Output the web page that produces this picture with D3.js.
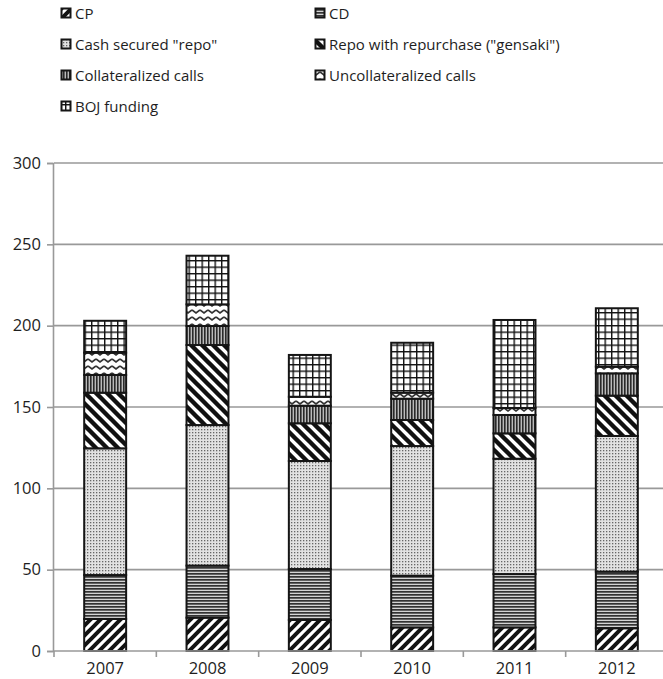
<!DOCTYPE html>
<html><head><meta charset="utf-8">
<script src="https://cdn.jsdelivr.net/npm/d3@7"></script>
<style>body{margin:0;background:#fff}svg{display:block}text{font-family:"Open Sans","Noto Sans",sans-serif;fill:#1e1e1e}</style>
</head><body>
<script>
const years = ["2007","2008","2009","2010","2011","2012"];
const seriesNames = ["CP","CD","Cash secured \"repo\"","Repo with repurchase (\"gensaki\")","Collateralized calls","Uncollateralized calls","BOJ funding"];
const cp        = [19.7, 20.5, 19.1, 14.5, 14.5, 14.0];
const cd        = [27.0, 32.0, 31.3, 31.8, 32.8, 34.8];
const cashRepo  = [77.9, 86.4, 66.4, 79.7, 70.9, 83.4];
const gensaki   = [34.2, 49.2, 23.2, 16.0, 15.6, 24.8];
const collCalls = [10.9, 11.7, 10.8, 13.1, 11.3, 13.7];
const uncollCalls=[13.7, 13.3, 5.5, 3.7, 4.3, 4.1];
const boj       = [19.6, 29.9, 25.7, 30.7, 54.1, 35.9];
const yTicks = [0,50,100,150,200,250,300];

(function(){
const seriesVals = [cp, cd, cashRepo, gensaki, collCalls, uncollCalls, boj];
const keys = ["cp","cd","cash","gensaki","coll","uncoll","boj"];
const table = years.map((yr,i)=>{const o={year:yr}; keys.forEach((k,j)=>o[k]=seriesVals[j][i]); return o;});
const stacked = d3.stack().keys(keys)(table);

const W=663,H=679;
const svg = d3.select("body").append("svg").attr("width",W).attr("height",H);
const defs = svg.append("defs");

function pat(id,w,h,build,bg="#fff"){
  const p=defs.append("pattern").attr("id",id).attr("patternUnits","userSpaceOnUse").attr("width",w).attr("height",h);
  p.append("rect").attr("width",w).attr("height",h).attr("fill",bg);
  build(p);
}
pat("p-cp",10,10,p=>{
  p.append("path").attr("d","M-2,12 L12,-2 M-2,2 L2,-2 M8,12 L12,8").attr("stroke","#111").attr("stroke-width",4);
});
pat("p-cd",4,3,p=>{
  p.append("rect").attr("y",0).attr("width",4).attr("height",1.7).attr("fill","#333");
},"#d4d4d4");
pat("p-cash",3,3,p=>{
  p.append("rect").attr("x",0).attr("y",0).attr("width",1.3).attr("height",1.3).attr("fill","#666");
},"#e2e2e2");
pat("p-gensaki",11,11,p=>{
  p.append("path").attr("d","M-2,-2 L13,13 M-2,9 L2,13 M9,-2 L13,2").attr("stroke","#111").attr("stroke-width",4.4);
});
pat("p-coll",3,4,p=>{
  p.append("rect").attr("x",0).attr("width",1.6).attr("height",4).attr("fill","#2a2a2a");
},"#bbb");
pat("p-uncoll",8,7,p=>{
  p.append("path").attr("d","M0,2 L4,5 L8,2").attr("fill","none").attr("stroke","#333").attr("stroke-width",1.7);
});
pat("p-boj",6.5,6.5,p=>{
  p.append("path").attr("d","M0,0 H6.5 M0,0 V6.5").attr("stroke","#111").attr("stroke-width",2.8);
});
const fills = {cp:"url(#p-cp)",cd:"url(#p-cd)",cash:"url(#p-cash)",gensaki:"url(#p-gensaki)",coll:"url(#p-coll)",uncoll:"url(#p-uncoll)",boj:"url(#p-boj)"};

const pl=54,pr=668,pt=163,pb=651;
const x = d3.scaleBand().domain(years).range([pl,pr]).paddingInner(0.59).paddingOuter(0.295);
const xb = d3.scaleBand().domain(years).range([pl,pr]);
const y = d3.scaleLinear().domain([0,300]).range([pb,pt]);

svg.append("g").selectAll("line").data(yTicks.filter(t=>t>0)).join("line")
  .attr("x1",pl).attr("x2",W).attr("y1",d=>y(d)).attr("y2",d=>y(d))
  .attr("stroke","#999").attr("stroke-width",1.6);

const ya = svg.append("g").attr("transform",`translate(${pl-1},0)`)
  .call(d3.axisLeft(y).tickValues(yTicks).tickSize(6).tickPadding(6));
ya.select(".domain").attr("stroke","#999").attr("stroke-width",1.6);
ya.selectAll(".tick line").attr("stroke","#999").attr("stroke-width",1.6);
ya.selectAll("text").attr("font-size",16.5).attr("fill","#1e1e1e").style("font-family","'Open Sans','Noto Sans',sans-serif");

const g = svg.append("g");
stacked.forEach(s=>{
  g.append("g").selectAll("rect").data(s).join("rect")
    .attr("x",d=>x(d.data.year)).attr("width",x.bandwidth())
    .attr("y",d=>y(d[1])).attr("height",d=>y(d[0])-y(d[1]))
    .attr("fill",fills[s.key]).attr("stroke","#151515").attr("stroke-width",2);
});

svg.append("line").attr("x1",pl-1).attr("x2",W).attr("y1",pb).attr("y2",pb).attr("stroke","#999").attr("stroke-width",1.6);
svg.append("g").selectAll("line").data(years).join("line")
  .attr("x1",d=>xb(d)).attr("x2",d=>xb(d)).attr("y1",pb).attr("y2",pb+6)
  .attr("stroke","#999").attr("stroke-width",1.6);
svg.append("g").selectAll("text").data(years).join("text")
  .attr("x",d=>x(d)+x.bandwidth()/2).attr("y",pb+23).attr("text-anchor","middle")
  .attr("font-size",16.5).text(d=>d);

const legPos = [[66,13],[320,13],[66,44],[320,44],[66,75],[320,75],[66,106]];
const lg = svg.append("g");
keys.forEach((k,i)=>{
  const [lx,ly]=legPos[i];
  lg.append("rect").attr("x",lx-4.5).attr("y",ly-4.5).attr("width",9).attr("height",9)
    .attr("fill",fills[k]).attr("stroke","#151515").attr("stroke-width",2);
  lg.append("text").attr("x",lx+9).attr("y",ly+5.5).attr("font-size",15).text(seriesNames[i]);
});
})();
</script>
</body></html>
